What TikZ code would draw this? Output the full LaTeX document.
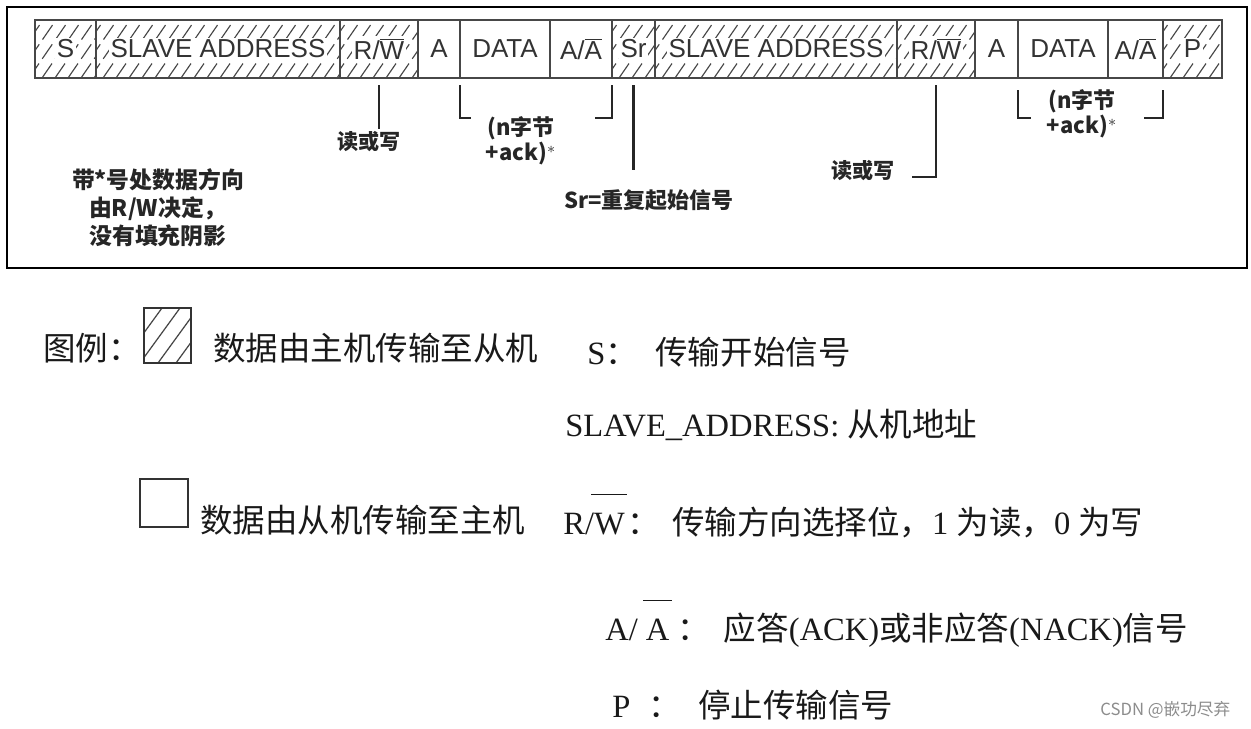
\documentclass[tikz,border=0pt]{standalone}
\usepackage{fontspec}
\setmainfont{Liberation Serif}
\newfontfamily\arialf{Liberation Sans}
\newfontfamily\cjk{Noto Sans CJK SC}
\colorlet{textgray}{black!80}
\colorlet{cellgray}{black!72}
\colorlet{hatchgray}{black!72}
\newcommand\hatchcell[4]{%
  \begin{scope}
    \clip (#2,20) rectangle (#3,78);
    \foreach \k in {0,...,25}{\draw[hatch] ({#2-45+13*\k},78) -- ++(40,-58);}
  \end{scope}
  \node[cellbox, minimum width={(#3-#2)*0.02cm}] (#1) at ({(#2+#3)/2},49) {};
  \node[celltext, fill=white] (#1t) at (#1) {#4};
}
\newcommand\plaincell[4]{%
  \node[cellbox, minimum width={(#3-#2)*0.02cm}] (#1) at ({(#2+#3)/2},49) {};
  \node[celltext] (#1t) at (#1) {#4};
}
\newcommand\highbar[1]{\smash{$\overline{\mbox{\rule{0pt}{1.15em}\kern1.5pt #1\kern1.5pt}}$}}
\begin{document}
\begin{tikzpicture}[x=0.02cm,y=-0.02cm,
  cellbox/.style={draw=cellgray, line width=0.9pt, minimum height=1.16cm, inner sep=0pt, outer sep=0pt},
  celltext/.style={font=\arialf\fontsize{14.8}{16}\selectfont, text=textgray, inner sep=1pt},
  hatch/.style={draw=hatchgray, line width=0.65pt, dash pattern=on 10pt off 3.3pt},
  lbl/.style={font=\cjk\bfseries\fontsize{12.5}{14.2}\selectfont, text=black!85, inner sep=0pt},
  tick/.style={draw=black!85, line width=1.2pt},
  legend/.style={anchor=west, inner sep=0pt, text=black!90, font=\fontsize{18.5}{22}\selectfont},
  legbox/.style={draw=black!80, line width=1pt, inner sep=0pt}]
\useasboundingbox (0,0) rectangle (1251,728);
\fill[white] (0,0) rectangle (1251,728);
% frame
\draw[line width=1.5pt] (7,7) rectangle (1247,268);
% bit row
\hatchcell{s}{35}{96}{S}
\hatchcell{sa1}{96}{340}{SLAVE ADDRESS}
\hatchcell{rw1}{340}{418}{R/$\overline{\mbox{W}}$}
\plaincell{a1}{418}{460}{A}
\plaincell{d1}{460}{550}{DATA}
\plaincell{aa1}{550}{612}{A/$\overline{\mbox{A}}$}
\hatchcell{sr}{612}{655}{Sr}
\hatchcell{sa2}{655}{897}{SLAVE ADDRESS}
\hatchcell{rw2}{897}{975}{R/$\overline{\mbox{W}}$}
\plaincell{a2}{975}{1018}{A}
\plaincell{d2}{1018}{1108}{DATA}
\plaincell{aa2}{1108}{1163}{A/$\overline{\mbox{A}}$}
\hatchcell{p}{1163}{1222}{P}
% labels below
\node[lbl, font=\cjk\bfseries\fontsize{12}{14}\selectfont] (rwl1) at (369,142) {读或写};
\draw[tick] ([shift={(0,7)}]rw1.south) -- ++(0,44);
\draw[tick] ([shift={(0,7)}]d1.south west) -- ++(0,33) -- ++(11,0);
\draw[tick] ([shift={(0,7)}]aa1.south east) -- ++(0,33) -- ++(-17,0);
\node[lbl, align=center] (n1) at (521,141) {(n字节\\+ack)$^{*}$};
\draw[tick] ([shift={(0,7)}]sr.south) -- ++(0,85);
\node[lbl] (srl) at (649,200) {Sr=重复起始信号};
\draw[tick] ([shift={(0,7)}]rw2.south) -- ++(0,92) -- ++(-24,0);
\node[lbl, font=\cjk\bfseries\fontsize{12}{14}\selectfont] (rwl2) at (863,171) {读或写};
\draw[tick] ([shift={(0,12)}]d2.south west) -- ++(0,28) -- ++(13,0);
\draw[tick] ([shift={(0,12)}]aa2.south east) -- ++(0,28) -- ++(-19,0);
\node[lbl, align=center] (n2) at (1082,114) {(n字节\\+ack)$^{*}$};
\node[lbl, align=center, font=\cjk\bfseries\fontsize{13}{15.9}\selectfont] (note) at (158,208) {带*号处数据方向\\由R/W决定，\\没有填充阴影};
% legend
\node[legend] (lg0) at (43,348) {\cjk 图例：};
\begin{scope}
  \clip (144,308) rectangle (191,363);
  \foreach \k in {0,...,6}{\draw[hatchgray, line width=0.7pt] ({144-40+18*\k},363) -- ++(40,-55);}
\end{scope}
\node[legbox, minimum width=0.94cm, minimum height=1.1cm] (lgh) at (167.5,335.5) {};
\node[legend] (lg1) at (213,348) {\cjk 数据由主机传输至从机};
\node[legbox, minimum width=0.96cm, minimum height=0.96cm] (lgw) at (164,503) {};
\node[legend] (lg2) at (200,520) {\cjk 数据由从机传输至主机};
\node[legend] (k1) at (587,352) {S{\cjk ：\hspace{10pt}传输开始信号}};
\node[legend] (k2) at (565,425) {SLAVE\_ADDRESS: {\cjk 从机地址}};
\node[legend] (k3) at (563,522) {R/\kern-1.5pt\highbar{W}{\cjk ：\hspace{7pt}传输方向选择位，}1 {\cjk 为读，}0 {\cjk 为写}};
\node[legend] (k4) at (605,630) {A/ \kern-1.5pt\highbar{A}\hspace{3pt}{\cjk ：\hspace{8pt}应答}(ACK){\cjk 或非应答}(NACK){\cjk 信号}};
\node[legend] (k5) at (612,705) {P\hspace{10pt}{\cjk ：\hspace{10pt}停止传输信号}};
\node[anchor=west, inner sep=0pt, text=black!45, font=\cjk\fontsize{9.5}{11}\selectfont] (wm) at (1100,710) {CSDN @嵌功尽弃};
\end{tikzpicture}
\end{document}
